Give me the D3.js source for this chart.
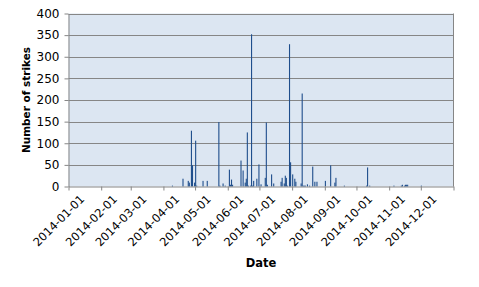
<!DOCTYPE html>
<html>
<head>
<meta charset="utf-8">
<script src="https://cdn.jsdelivr.net/npm/d3@7"></script>
<style>
  body { margin: 0; background: #fff; }
  svg { display: block; }
  text { font-family: "DejaVu Sans", sans-serif; }
</style>
</head>
<body>
<div class="chart"></div>
<script>
var w = 479;
var h = 287;

// strike days and counts
var dates = [
  "2014-04-09", "2014-04-19", "2014-04-24", "2014-04-25", "2014-04-27", "2014-04-28", "2014-04-30",
  "2014-05-01", "2014-05-02", "2014-05-08", "2014-05-12", "2014-05-23", "2014-05-24", "2014-05-27",
  "2014-05-29", "2014-06-02", "2014-06-03", "2014-06-04", "2014-06-05", "2014-06-13", "2014-06-15",
  "2014-06-17", "2014-06-18", "2014-06-19", "2014-06-20", "2014-06-22", "2014-06-23", "2014-06-24",
  "2014-06-25", "2014-06-28", "2014-06-30", "2014-07-02", "2014-07-06", "2014-07-07", "2014-07-08",
  "2014-07-12", "2014-07-14", "2014-07-21", "2014-07-22", "2014-07-24", "2014-07-25", "2014-07-26",
  "2014-07-27", "2014-07-29", "2014-07-30", "2014-08-01", "2014-08-03", "2014-08-04", "2014-08-09",
  "2014-08-10", "2014-08-11", "2014-08-12", "2014-08-13", "2014-08-15", "2014-08-17", "2014-08-20",
  "2014-08-22", "2014-08-24", "2014-09-01", "2014-09-06", "2014-09-10", "2014-09-11", "2014-09-19",
  "2014-10-10", "2014-10-11", "2014-10-13", "2014-11-05", "2014-11-12", "2014-11-13", "2014-11-15",
  "2014-11-16", "2014-11-17", "2014-11-18", "2014-12-01"
];
var strikes = [
  2, 18, 13, 9, 129, 49, 9,
  106, 2, 13, 13, 149, 2, 7,
  2, 39, 4, 16, 4, 60, 37,
  9, 18, 125, 2, 2, 352, 2,
  13, 18, 51, 5, 20, 148, 4,
  28, 7, 11, 20, 7, 25, 20,
  2, 329, 56, 28, 18, 11, 7,
  215, 2, 2, 2, 5, 2, 46,
  11, 11, 13, 49, 9, 20, 2,
  2, 44, 2, 2, 2, 4, 2,
  4, 4, 4, 2
];

var monthTicks = ["2014-01-01", "2014-02-01", "2014-03-01", "2014-04-01", "2014-05-01", "2014-06-01",
  "2014-07-01", "2014-08-01", "2014-09-01", "2014-10-01", "2014-11-01", "2014-12-01", "2015-01-01"];
var yTicks = [0, 50, 100, 150, 200, 250, 300, 350, 400];

var parse = d3.timeParse("%Y-%m-%d");
var fmt = d3.timeFormat("%Y-%m-%d");

// plot box (window.top is reserved, so no bare "top")
var padL = 68.5, padR = 453.5, padT = 13.5, padB = 186.5;

var xScale = d3.scaleTime()
  .domain([parse("2014-01-01"), parse("2015-01-01")])
  .range([padL, padR]);

var yScale = d3.scaleLinear()
  .domain([0, 400])
  .range([padB, padT]);

var svg = d3.select(".chart").append("svg")
  .attr("width", w)
  .attr("height", h);

// plot background
svg.append("rect")
  .attr("x", padL)
  .attr("y", padT)
  .attr("width", padR - padL)
  .attr("height", padB - padT)
  .attr("fill", "#dce6f2");

// horizontal grid
svg.append("g")
  .selectAll("line")
  .data(yTicks.slice(1))
  .enter()
  .append("line")
  .attr("x1", padL)
  .attr("x2", padR)
  .attr("y1", function (d) { return Math.round(yScale(d)) + 0.5; })
  .attr("y2", function (d) { return Math.round(yScale(d)) + 0.5; })
  .attr("stroke", "#868686")
  .attr("stroke-width", 1);

// right border
svg.append("line")
  .attr("x1", padR).attr("x2", padR)
  .attr("y1", padT).attr("y2", padB)
  .attr("stroke", "#868686");

// bars
var dayW = xScale(parse("2014-01-02")) - xScale(parse("2014-01-01"));
svg.append("g")
  .selectAll("rect")
  .data(dates)
  .enter()
  .append("rect")
  .attr("x", function (d) { return xScale(parse(d)) + dayW / 2 - 0.5; })
  .attr("y", function (d, i) { return yScale(strikes[i]); })
  .attr("width", 1.1)
  .attr("height", function (d, i) { return yScale(0) - yScale(strikes[i]); })
  .attr("fill", "#1f4e8c");

// x axis
var xAxis = d3.axisBottom(xScale)
  .tickValues(monthTicks.map(parse))
  .tickSize(4)
  .tickSizeOuter(0)
  .tickFormat(function (d) { return d.getFullYear() === 2015 ? "" : fmt(d); });

var gx = svg.append("g")
  .attr("transform", "translate(0," + padB + ")")
  .call(xAxis);
gx.select(".domain").attr("stroke", "#868686");
gx.selectAll(".tick line").attr("stroke", "#868686");
gx.selectAll("text")
  .attr("font-size", 11.5)
  .attr("font-family", "DejaVu Sans, sans-serif")
  .attr("fill", "#000")
  .attr("text-anchor", "end")
  .attr("x", 2)
  .attr("y", 14)
  .attr("dy", "0.6em")
  .attr("transform", "rotate(-45)");

// y axis
var yAxis = d3.axisLeft(yScale)
  .tickValues(yTicks)
  .tickSize(4)
  .tickSizeOuter(0)
  .tickPadding(5);

var gy = svg.append("g")
  .attr("transform", "translate(" + padL + ",0)")
  .call(yAxis);
gy.select(".domain").attr("stroke", "#868686");
gy.selectAll(".tick line").attr("stroke", "#868686");
gy.selectAll("text")
  .attr("font-size", 12)
  .attr("font-family", "DejaVu Sans, sans-serif")
  .attr("fill", "#000");

// axis titles
svg.append("text")
  .text("Date")
  .attr("x", 261)
  .attr("y", 267)
  .attr("text-anchor", "middle")
  .attr("font-size", 11.5)
  .attr("font-weight", "bold");

svg.append("text")
  .text("Number of strikes")
  .attr("transform", "translate(30,100) rotate(-90)")
  .attr("text-anchor", "middle")
  .attr("font-size", 10.5)
  .attr("font-weight", "bold");
</script>
</body>
</html>
